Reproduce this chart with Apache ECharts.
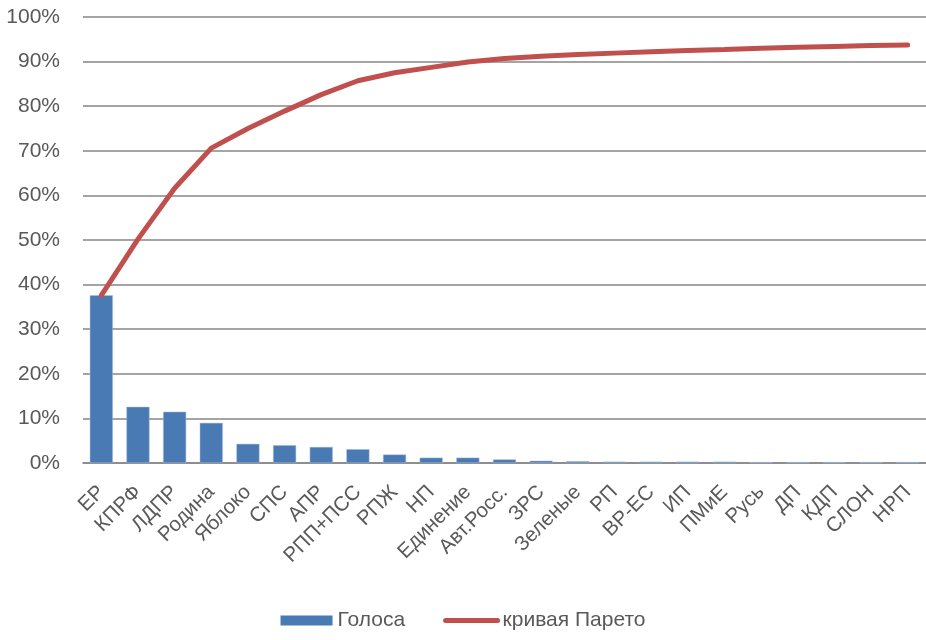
<!DOCTYPE html>
<html><head><meta charset="utf-8">
<script src="https://cdn.jsdelivr.net/npm/echarts@6/dist/echarts.min.js"></script>
<style>html,body{margin:0;padding:0;background:#fff}#c{width:926px;height:640px}</style>
</head><body><div id="c"></div>
<script>
const categories = ['ЕР','КПРФ','ЛДПР','Родина','Яблоко','СПС','АПР','РПП+ПСС','РПЖ','НП','Единение','Авт.Росс.','ЗРС','Зеленые','РП','ВР-ЕС','ИП','ПМиЕ','Русь','ДП','КДП','СЛОН','НРП'];
const votes = [37.6,12.6,11.5,9.0,4.3,4.0,3.6,3.1,1.9,1.2,1.2,0.8,0.5,0.4,0.3,0.3,0.3,0.3,0.2,0.2,0.2,0.2,0.2];
const pareto = [37.6,50.2,61.6,70.6,75.0,78.9,82.6,85.7,87.5,88.7,89.9,90.7,91.2,91.6,91.9,92.2,92.5,92.7,93.0,93.2,93.4,93.6,93.7];
const yTicks = {min:0, max:100, interval:10};
const chart = echarts.init(document.getElementById('c'), null, {renderer:'canvas'});
const font = 'Liberation Sans, Arial, sans-serif';
chart.setOption({
  animation:false,
  textStyle:{fontFamily:font},
  grid:{left:83, right:-3, top:17, bottom:177, containLabel:false},
  legend:{
    bottom:4, left:'center', itemGap:38, itemWidth:52, itemHeight:10,
    textStyle:{fontSize:21, color:'#595959', fontFamily:font},
    data:[{name:'Голоса', icon:'rect', itemStyle:{borderWidth:0}},
          {name:'кривая Парето', itemStyle:{opacity:0}, lineStyle:{color:'#c0504d', width:5, cap:'round'}}]
  },
  xAxis:{
    type:'category', data:categories,
    axisLine:{lineStyle:{color:'#868686', width:1.5}},
    axisTick:{show:false},
    axisLabel:{interval:0, rotate:45, fontSize:20.5, color:'#595959', margin:26, fontFamily:font}
  },
  yAxis:{
    type:'value', min:yTicks.min, max:yTicks.max, interval:yTicks.interval,
    axisLine:{show:false}, axisTick:{show:false},
    splitLine:{lineStyle:{color:'#868686', width:1.5}},
    axisLabel:{formatter:'{value}%', fontSize:21, color:'#595959', margin:23, fontFamily:font}
  },
  series:[
    {name:'Голоса', type:'bar', data:votes, barCategoryGap:'37%',
     itemStyle:{color:'#4a7ab4', borderColor:'#a9c0de', borderWidth:0.5}},
    {name:'кривая Парето', type:'line', data:pareto, symbol:'none', showSymbol:false,
     lineStyle:{color:'#c0504d', width:5, cap:'round'}, itemStyle:{color:'#c0504d'}}
  ]
});
</script></body></html>
